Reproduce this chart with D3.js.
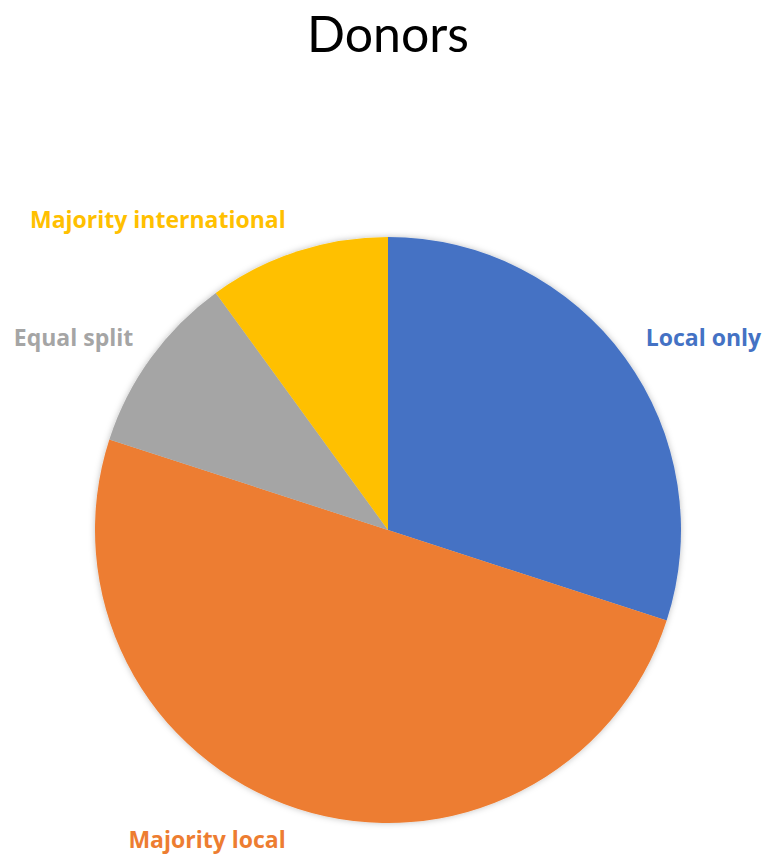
<!DOCTYPE html>
<html>
<head>
<meta charset="utf-8">
<script src="https://cdn.jsdelivr.net/npm/d3@7"></script>
<style>
  body { margin: 0; background: #fff; }
  svg { display: block; }
</style>
</head>
<body>
<script>
// Chart data
var categories = ["Local only", "Majority local", "Equal split", "Majority international"];
var values = [30, 50, 10, 10];
var colors = ["#4472C4", "#ED7D31", "#A5A5A5", "#FFC000"];

var width = 762, height = 855,
    cx = 388, cy = 530,
    radius = 293;

var svg = d3.select("body").append("svg")
    .attr("width", width)
    .attr("height", height);

// Soft shadow under the pie
var defs = svg.append("defs");
var filter = defs.append("filter")
    .attr("id", "shadow")
    .attr("x", "-20%").attr("y", "-20%")
    .attr("width", "140%").attr("height", "140%");
filter.append("feDropShadow")
    .attr("dx", 0).attr("dy", 0)
    .attr("stdDeviation", 3)
    .attr("flood-color", "#000")
    .attr("flood-opacity", 0.25);

// Title
svg.append("text")
    .attr("x", width / 2 + 7)
    .attr("y", 52)
    .attr("text-anchor", "middle")
    .style("font-family", "Lato, 'Open Sans', sans-serif")
    .style("font-size", "50px")
    .style("fill", "#000")
    .text("Donors");

var pie = d3.pie().sort(null).value(function (d) { return d; });
var arcs = pie(values);

var arc = d3.arc().innerRadius(0).outerRadius(radius);

var g = svg.append("g")
    .attr("transform", "translate(" + cx + "," + cy + ")");

g.append("g")
    .attr("filter", "url(#shadow)")
    .selectAll("path")
    .data(arcs)
    .enter()
    .append("path")
        .attr("d", arc)
        .style("fill", function (d, i) { return colors[i]; });

// Labels placed just outside the slice ends
var labelRadius = radius + 12;
g.selectAll("text.label")
    .data(arcs)
    .enter()
    .append("text")
        .attr("class", "label")
        .each(function (d, i) {
            var a = (d.startAngle + d.endAngle) / 2;
            var px = labelRadius * Math.sin(a),
                py = -labelRadius * Math.cos(a);
            var right = Math.sin(a) >= 0;
            d3.select(this)
                .attr("x", px + (right ? 11 : -8))
                .attr("y", py - Math.cos(a) * 21)
                .attr("dy", "0.35em")
                .attr("text-anchor", right ? "start" : "end");
        })
        .style("font-family", "'Open Sans', sans-serif")
        .style("font-weight", "bold")
        .style("font-size", "23px")
        .style("fill", function (d, i) { return colors[i]; })
        .text(function (d, i) { return categories[i]; });
</script>
</body>
</html>
